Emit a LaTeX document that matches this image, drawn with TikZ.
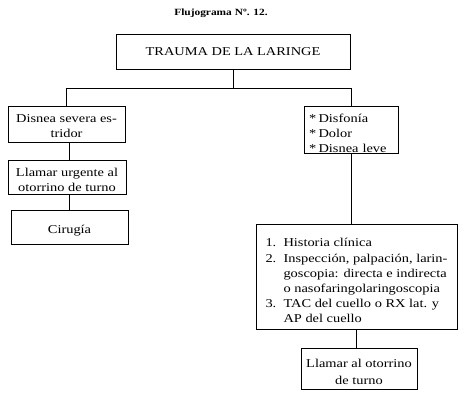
\documentclass[tikz,border=0pt]{standalone}
\usepackage{fontspec}
\setmainfont{Liberation Serif}[FakeStretch=1.2]
\begin{document}
\begin{tikzpicture}[x=1pt,y=-1pt,
  box/.style={draw,line width=0.8pt,inner sep=0pt,font=\fontsize{12}{15.2}\selectfont},
  conn/.style={line width=0.8pt}]
\useasboundingbox[fill=white] (0,0) rectangle (466,395);
\node[font=\bfseries\fontsize{9.5}{11}\selectfont] (title) at (221,13) {Flujograma Nº. 12.};
\node[box,minimum width=234pt,minimum height=35pt] (top) at (233,51.5) {TRAUMA DE LA LARINGE};
\node[box,minimum width=117pt,minimum height=36pt,align=center] (l1) at (66.5,124) {\rule{0pt}{12pt}Disnea severa es-\\tridor};
\node[box,minimum width=118pt,minimum height=34pt,align=center] (l2) at (67,177.5) {\rule{0pt}{12.5pt}Llamar urgente al\\otorrino de turno};
\node[box,minimum width=117pt,minimum height=34pt,text height=15pt,text depth=2pt] (l3) at (69.5,227.5) {Cirugía};
\node[box,minimum width=94pt,minimum height=47pt,text width=84pt,align=left] (ra) at (351,129.5) {\rule{0pt}{16pt}{*}\hspace{0.2em}Disfonía\\{*}\hspace{0.2em}Dolor\\{*}\hspace{0.2em}Disnea leve};
\node[box,minimum width=201pt,minimum height=105pt,align=left] (rb) at (356.5,276.5)
  {\rule{0pt}{17pt}\makebox[18pt][l]{1.}Historia clínica\\
   \makebox[18pt][l]{2.}Inspección, palpación, larin-\\
   \hspace*{18pt}goscopia: directa e indirecta\\
   \hspace*{18pt}o nasofaringolaringoscopia\\
   \makebox[18pt][l]{3.}TAC del cuello o RX lat. y\\
   \hspace*{18pt}AP del cuello};
\node[box,minimum width=116pt,minimum height=41pt,align=center,font=\fontsize{12}{17}\selectfont] (rc) at (359,368.5) {\rule{0pt}{14.5pt}Llamar al otorrino\\de turno};
\coordinate (bus) at (233,88);
\draw[conn] (top.south) -- (bus);
\draw[conn] (l1.north) -- (l1.north |- bus) -- (ra.north |- bus) -- (ra.north);
\draw[conn] ([xshift=2pt]l2.north) -- ([xshift=2pt]l2.north |- l1.south);
\draw[conn] (l3.north) -- (l3.north |- l2.south);
\draw[conn] (ra.south) -- (ra.south |- rb.north);
\draw[conn] (rb.south) -- (rb.south |- rc.north);
\end{tikzpicture}
\end{document}
